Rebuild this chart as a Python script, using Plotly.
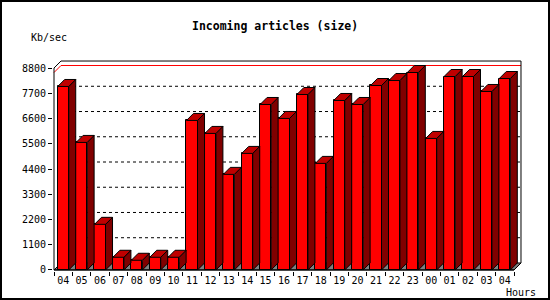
import plotly.graph_objects as go

# ---- data ----
hours = ["04", "05", "06", "07", "08", "09", "10", "11", "12", "13", "14", "15", "16",
         "17", "18", "19", "20", "21", "22", "23", "00", "01", "02", "03", "04"]
kb_per_sec = [7996, 5558, 1989, 553, 422, 553, 553, 6516, 5950, 4165, 5079, 7212, 6603,
              7647, 4644, 7386, 7212, 8039, 8257, 8605, 5732, 8431, 8431, 7778, 8344]
y_ticks = [0, 1100, 2200, 3300, 4400, 5500, 6600, 7700, 8800]
title_text = "Incoming articles (size)"
y_unit = "Kb/sec"
x_unit = "Hours"

# ---- style / geometry constants ----
N = len(hours)
YMAX = y_ticks[-1]
DX = 0.38      # 3D depth in category units
DY = 305       # 3D depth in value units
BW = 0.6       # bar front width
PADX = 0.055
PADY = 45
L, R, T, B = 53, 28, 60, 29
W, H = 550, 300
PW, PH = W - L - R, H - T - B

def px_x(p):
    return (p - L) / PW

def px_y(p):
    return (H - B - p) / PH

FRONT = "#ff0000"
TOP = "#c00000"
SIDE = "#800000"

fig = go.Figure()

# front faces
centers = [i + 0.5 for i in range(N)]
fig.add_trace(go.Bar(x=centers, y=kb_per_sec, width=BW,
                     marker=dict(color=FRONT, line=dict(color="black", width=1)),
                     hoverinfo="skip", showlegend=False))

# side and top faces
sx, sy, tx, ty = [], [], [], []
for i, v in enumerate(kb_per_sec):
    x0 = i + 0.5 - BW / 2
    x1 = i + 0.5 + BW / 2
    sx += [x1, x1 + DX, x1 + DX, x1, x1, None]
    sy += [0, DY, v + DY, v, 0, None]
    tx += [x0, x1, x1 + DX, x0 + DX, x0, None]
    ty += [v, v, v + DY, v + DY, v, None]
fig.add_trace(go.Scatter(x=sx, y=sy, mode="lines", fill="toself", fillcolor=SIDE,
                         line=dict(color="black", width=1), hoverinfo="skip", showlegend=False))
fig.add_trace(go.Scatter(x=tx, y=ty, mode="lines", fill="toself", fillcolor=TOP,
                         line=dict(color="black", width=1), hoverinfo="skip", showlegend=False))

# frame of the 3D box
fig.add_trace(go.Scatter(
    x=[0, 0, DX, N + DX, N + DX, N, 0],
    y=[0, YMAX, YMAX + DY, YMAX + DY, DY, 0, 0],
    mode="lines", line=dict(color="black", width=1), hoverinfo="skip", showlegend=False))

shapes = []
# floor
shapes.append(dict(type="path", layer="below", xref="x", yref="y",
                   path=f"M 0,0 L {N},0 L {N + DX},{DY} L {DX},{DY} Z",
                   fillcolor="#808080", line=dict(color="black", width=1)))
# back gridlines
for t in y_ticks[1:-1]:
    shapes.append(dict(type="line", layer="below", xref="x", yref="y",
                       x0=DX, x1=N + DX, y0=t + DY, y1=t + DY,
                       line=dict(color="black", width=1, dash="3px,3px")))
# max line
m = max(kb_per_sec)
shapes.append(dict(type="path", layer="below", xref="x", yref="y",
                   path=f"M 0,{m} L {DX},{m + DY} L {N + DX},{m + DY}",
                   line=dict(color="#ff0000", width=1)))
# outer border
shapes.append(dict(type="rect", xref="paper", yref="paper",
                   x0=px_x(1), x1=px_x(549), y0=px_y(299), y1=px_y(1),
                   line=dict(color="black", width=2)))

font_mono = "DejaVu Sans Mono"

fig.update_layout(
    width=W, height=H,
    margin=dict(l=L, r=R, t=T, b=B, pad=0),
    paper_bgcolor="white", plot_bgcolor="white",
    shapes=shapes,
    bargap=0,
    font=dict(family=font_mono, size=10, color="black"),
    xaxis=dict(range=[-PADX, N + DX + PADX], showgrid=False, zeroline=False, showline=False,
               tickmode="array", tickvals=centers, ticktext=hours,
               ticks="outside", ticklen=0, tickcolor="black",
               tickfont=dict(family=font_mono, size=10),
               minor=dict(tickmode="array", tickvals=list(range(N + 1)), ticks="outside",
                          ticklen=4, tickcolor="black", tickwidth=1, showgrid=False)),
    yaxis=dict(range=[-PADY, YMAX + DY + PADY], showgrid=False, zeroline=False, showline=False,
               tickmode="array", tickvals=y_ticks, ticktext=[str(t) for t in y_ticks],
               ticks="outside", ticklen=4, tickcolor="black",
               tickfont=dict(family=font_mono, size=10)),
    annotations=[
        dict(text=f"<b>{title_text}</b>", xref="paper", yref="paper",
             x=px_x(275), y=px_y(26.5), xanchor="center", yanchor="middle",
             showarrow=False, font=dict(family=font_mono, size=11.5)),
        dict(text=y_unit, xref="paper", yref="paper", x=px_x(29), y=px_y(37),
             xanchor="left", yanchor="middle", showarrow=False,
             font=dict(family=font_mono, size=10)),
        dict(text=x_unit, xref="paper", yref="paper", x=px_x(504), y=px_y(292),
             xanchor="left", yanchor="middle", showarrow=False,
             font=dict(family=font_mono, size=10)),
    ],
)

fig.write_html("out.html")
